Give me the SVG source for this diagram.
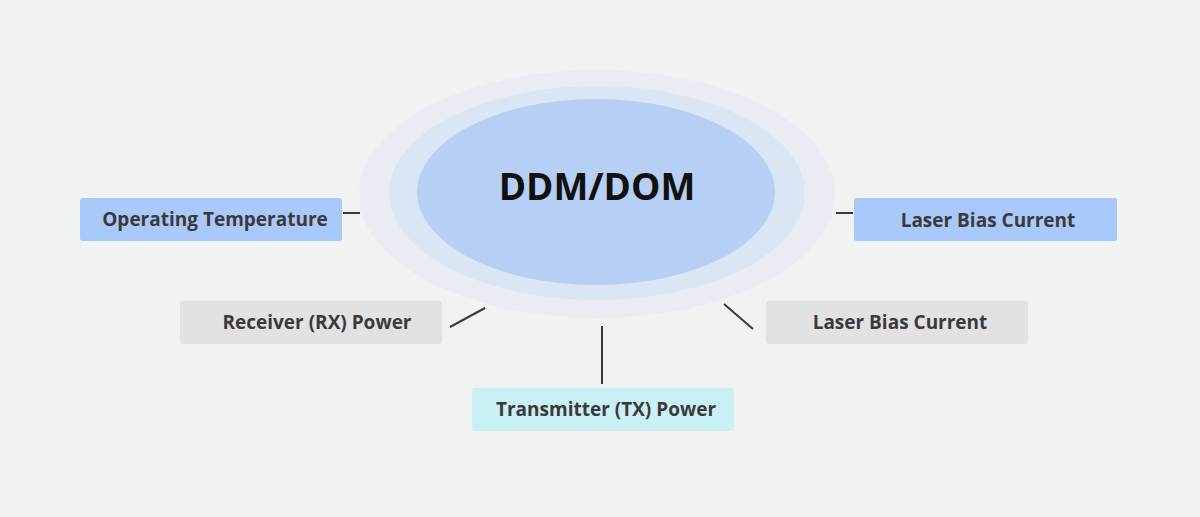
<svg xmlns="http://www.w3.org/2000/svg" width="1200" height="517" viewBox="0 0 1200 517">
<style>
.lbl{font-family:"Open Sans","Liberation Sans",sans-serif;font-weight:bold;font-size:19px;fill:#3a3a3a;text-anchor:middle;dominant-baseline:central}
.c{stroke:#3a3a3a;stroke-width:2;fill:none}
</style>
<rect width="1200" height="517" fill="#f1f2f2"/>
<g id="center">
<ellipse cx="597" cy="194" rx="238" ry="124" fill="#e9edf3"/>
<ellipse cx="597" cy="193" rx="208" ry="107" fill="#dbe6f5"/>
<ellipse cx="596" cy="192" rx="179" ry="93" fill="#b5cff5"/>
<text x="597" y="185" font-family="'Open Sans','Liberation Sans',sans-serif" font-weight="bold" font-size="37" fill="#111" text-anchor="middle" dominant-baseline="central">DDM/DOM</text>
</g>
<g id="connectors">
<line class="c" x1="343" y1="213" x2="360" y2="213"/>
<line class="c" x1="836" y1="213" x2="853" y2="213"/>
<line class="c" x1="450" y1="327" x2="485" y2="308"/>
<line class="c" x1="724" y1="304" x2="753" y2="329"/>
<line class="c" x1="602" y1="326" x2="602" y2="384"/>
</g>
<g id="n1"><rect x="80" y="198" width="262" height="43" rx="3" fill="#a8c9fa"/><text class="lbl" x="215" y="219">Operating Temperature</text></g>
<g id="n2"><rect x="854" y="198" width="263" height="43" rx="3" fill="#a8c9fa"/><text class="lbl" x="988" y="220">Laser Bias Current</text></g>
<g id="n3"><rect x="180" y="301" width="262" height="43" rx="3" fill="#e2e2e2"/><text class="lbl" x="317" y="322">Receiver (RX) Power</text></g>
<g id="n4"><rect x="766" y="301" width="262" height="43" rx="3" fill="#e2e2e2"/><text class="lbl" x="900" y="322">Laser Bias Current</text></g>
<g id="n5"><rect x="472" y="388" width="262" height="43" rx="3" fill="#c9f0f5"/><text class="lbl" x="606" y="409">Transmitter (TX) Power</text></g>
</svg>
